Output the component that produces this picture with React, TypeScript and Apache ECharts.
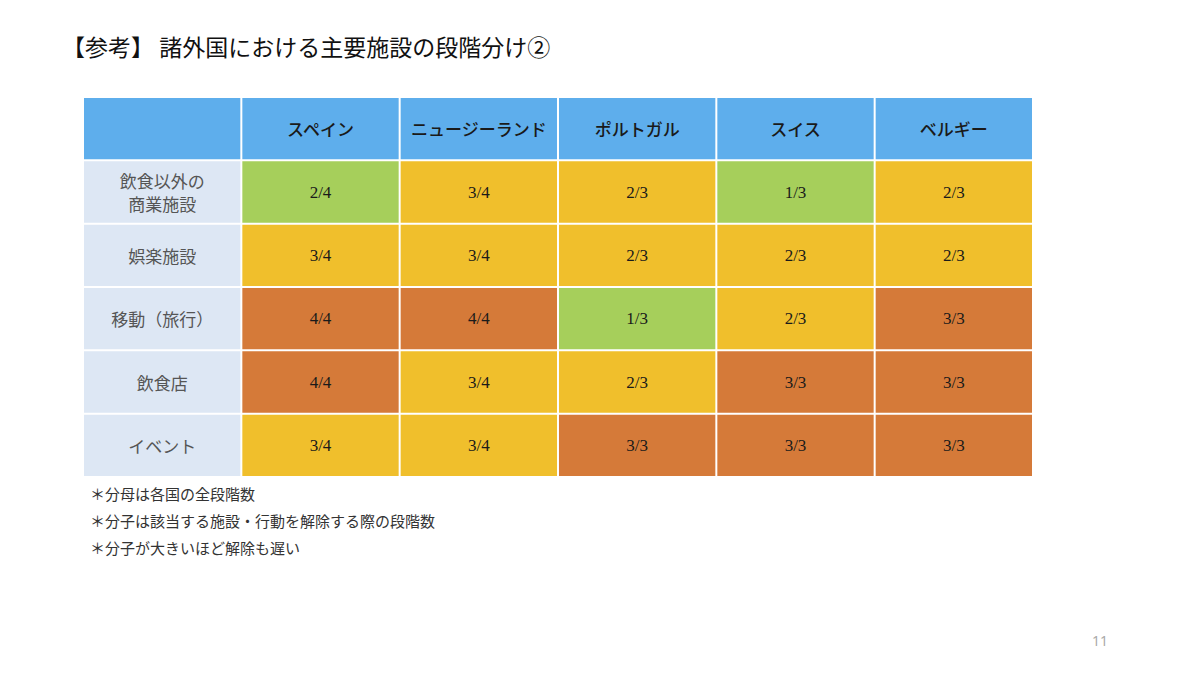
import React, { useEffect, useRef } from "react";
import * as echarts from "echarts";

const countries = ["スペイン", "ニュージーランド", "ポルトガル", "スイス", "ベルギー"];
const facilities = ["飲食以外の\n商業施設", "娯楽施設", "移動（旅行）", "飲食店", "イベント"];
const denominators = [4, 4, 3, 3, 3];
// numerators[row][col]
const numerators = [
  [2, 3, 2, 1, 2],
  [3, 3, 2, 2, 2],
  [4, 4, 1, 2, 3],
  [4, 3, 2, 3, 3],
  [3, 3, 3, 3, 3],
];
const notes = [
  "＊分母は各国の全段階数",
  "＊分子は該当する施設・行動を解除する際の段階数",
  "＊分子が大きいほど解除も遅い",
];
const title = "【参考】 諸外国における主要施設の段階分け②";
const pageNo = "11";

const GREEN = "#a6cf5b";
const YELLOW = "#f0bf2c";
const ORANGE = "#d57a39";
const HEADER = "#5eaeec";
const ROWHEAD = "#dde7f4";

function cellColor(n: number, d: number) {
  const r = n / d;
  if (r >= 1) return ORANGE;
  if (r <= 0.5) return GREEN;
  return YELLOW;
}

export default function App() {
  const ref = useRef<HTMLDivElement>(null);
  useEffect(() => {
    const chart = echarts.init(ref.current!, null, { renderer: "svg" });
    const xCats = ["", ...countries];
    const yCats = ["", ...facilities];
    const data: any[] = [];
    for (let r = 0; r < yCats.length; r++) {
      for (let c = 0; c < xCats.length; c++) {
        let text = "";
        let kind = "cell";
        let color = "#fff";
        if (r === 0 && c === 0) {
          kind = "corner";
          color = HEADER;
        } else if (r === 0) {
          kind = "colhead";
          color = HEADER;
          text = countries[c - 1];
        } else if (c === 0) {
          kind = "rowhead";
          color = ROWHEAD;
          text = facilities[r - 1];
        } else {
          const n = numerators[r - 1][c - 1];
          const d = denominators[c - 1];
          color = cellColor(n, d);
          text = `${n}/${d}`;
        }
        data.push({ value: [c, r], text, kind, color });
      }
    }
    chart.setOption({
      animation: false,
      grid: { left: 83, top: 97, width: 950, height: 380 },
      xAxis: { type: "category", data: xCats, show: false },
      yAxis: { type: "category", data: yCats, show: false, inverse: true },
      graphic: [
        {
          type: "text",
          left: 62,
          top: 34,
          style: {
            text: title,
            font: '23px "Noto Sans CJK JP"',
            fill: "#111",
          },
        },
        ...notes.map((t, i) => ({
          type: "text",
          left: 90,
          top: 486 + i * 27,
          style: { text: t, font: '15px "Noto Sans CJK JP"', fill: "#333" },
        })),
        {
          type: "text",
          left: 1092,
          top: 633,
          style: { text: pageNo, font: '14px "Noto Sans"', fill: "#aaa" },
        },
      ],
      series: [
        {
          type: "custom",
          data,
          renderItem: (params: any, api: any) => {
            const item = data[params.dataIndex];
            const c = api.value(0);
            const r = api.value(1);
            const p = api.coord([c, r]);
            const s = api.size([1, 1]);
            const x0 = p[0] - s[0] / 2;
            const y0 = p[1] - s[1] / 2;
            let font = '17px "Liberation Serif"';
            let fill = "#1a1a1a";
            if (item.kind === "colhead") font = '500 17px "Noto Sans CJK JP"';
            if (item.kind === "rowhead") {
              font = '17px "Noto Sans CJK JP"';
              fill = "#555";
            }
            return {
              type: "group",
              children: [
                {
                  type: "rect",
                  shape: { x: x0 + 1, y: y0 + 1, width: s[0] - 2, height: s[1] - 2 },
                  style: { fill: item.color },
                },
                {
                  type: "text",
                  style: {
                    text: item.text,
                    x: p[0],
                    y: p[1],
                    align: "center",
                    verticalAlign: "middle",
                    font,
                    fill,
                    lineHeight: 23,
                  },
                },
              ],
            };
          },
        },
      ],
    });
    return () => chart.dispose();
  }, []);
  return (
    <div
      ref={ref}
      style={{ position: "absolute", left: 0, top: 0, width: 1200, height: 675, background: "#fff" }}
    />
  );
}
